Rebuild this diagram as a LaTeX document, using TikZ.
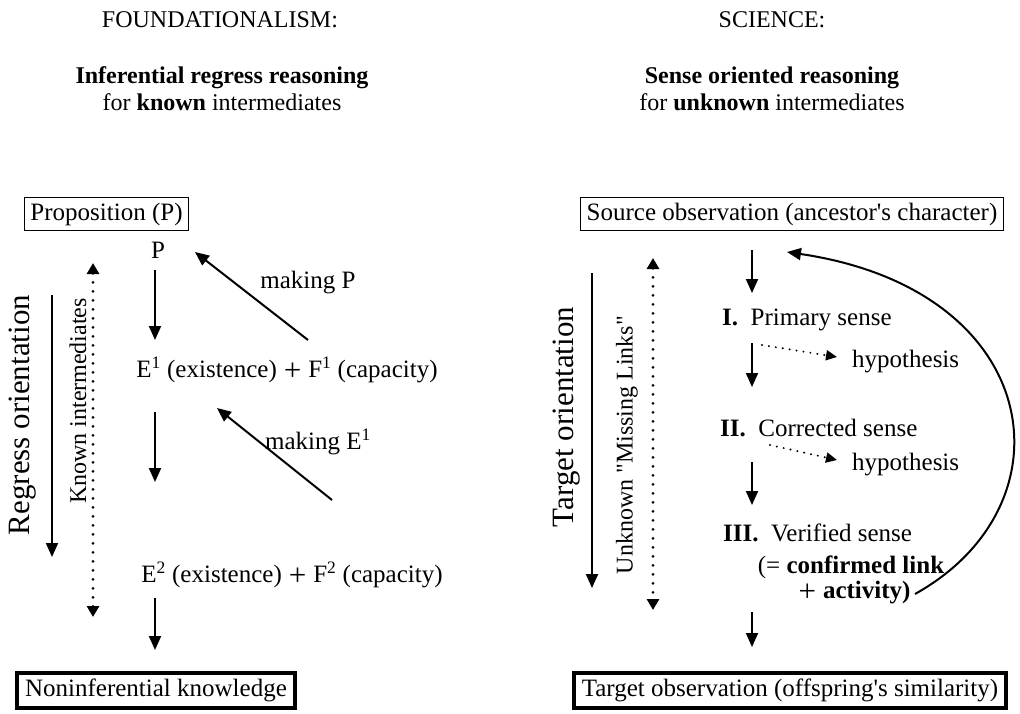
\documentclass[tikz,border=0pt]{standalone}
\usepackage{fontspec}
\setmainfont{Liberation Serif}[Ligatures=TeXOff]
\usetikzlibrary{arrows.meta}
\newcommand{\bigplus}{\hspace{0.28em}\raisebox{-2.5pt}{\fontsize{31}{30}\selectfont\mdseries +}\hspace{0.28em}}
\begin{document}
\begin{tikzpicture}[x=1pt,y=-1pt,
  txt/.style={font=\fontsize{25}{28}\selectfont, inner sep=0pt},
  head/.style={font=\fontsize{24}{28}\selectfont, inner sep=0pt},
  bigtxt/.style={font=\fontsize{31}{34}\selectfont, inner sep=0pt, rotate=90},
  sidetxt/.style={font=\fontsize{24}{28}\selectfont, inner sep=0pt, rotate=90},
  thinbox/.style={draw, line width=1pt, inner xsep=6pt, inner ysep=5pt, font=\fontsize{25}{28}\selectfont},
  thickbox/.style={draw, line width=4pt, inner xsep=8pt, inner ysep=6pt, font=\fontsize{25}{28}\selectfont},
  arr/.style={line width=2pt, -{Triangle[length=14pt,width=12pt]}},
  dotarr/.style={line width=3pt, line cap=round, dash pattern=on 0pt off 9pt,
     {Triangle[length=11pt,width=12pt]}-{Triangle[length=11pt,width=12pt]}},
  hyparr/.style={line width=2.2pt, line cap=round, dash pattern=on 0pt off 7pt,
     -{Triangle[length=11pt,width=10pt]}},
]
\useasboundingbox (0,0) rectangle (1020,713);

% ---------- left column ----------
\node[head] (h1) at (220,20) {FOUNDATIONALISM:};
\node[head] (h2) at (222,78) {\textbf{Inferential regress reasoning}};
\node[head] (h3) at (222,102) {for \textbf{known} intermediates};

\node[thinbox, anchor=west] (prop) at (24,214) {Proposition (P)};
\node[txt] (P) at (158,250) {P};
\node[txt] (E1) at (287,370) {E\textsuperscript{1} (existence)\bigplus F\textsuperscript{1} (capacity)};
\node[txt] (E2) at (292,575) {E\textsuperscript{2} (existence)\bigplus F\textsuperscript{2} (capacity)};
\node[thickbox] (nik) at (156,690) {Noninferential knowledge};

\node[txt] (mP) at (308,283) {making P};
\node[txt] (mE) at (318,442) {making E\textsuperscript{1}};

\node[bigtxt] (reg) at (23,415) {Regress orientation};
\node[sidetxt] (kin) at (78,401) {Known intermediates};

\coordinate (l1a) at (155,270); \coordinate (l1b) at (155,340);
\coordinate (l2a) at (155,412); \coordinate (l2b) at (155,482);
\coordinate (l3a) at (155,598); \coordinate (l3b) at (155,650);
\coordinate (mPa) at (308,340); \coordinate (mPb) at (195,252);
\coordinate (mEa) at (332,500); \coordinate (mEb) at (217,408);
\coordinate (ra) at (52,295); \coordinate (rb) at (52,557);
\coordinate (ka) at (93,263); \coordinate (kb) at (93,617);

\draw[arr] (l1a) -- (l1b);
\draw[arr] (l2a) -- (l2b);
\draw[arr] (l3a) -- (l3b);
\draw[arr] (mPa) -- (mPb);
\draw[arr] (mEa) -- (mEb);
\draw[arr] (ra) -- (rb);
\draw[dotarr] (ka) -- (kb);

% ---------- right column ----------
\node[head] (s1) at (772,20) {SCIENCE:};
\node[head] (s2) at (772,78) {\textbf{Sense oriented reasoning}};
\node[head] (s3) at (772,102) {for \textbf{unknown} intermediates};

\node[thinbox] (src) at (792,214) {Source observation (ancestor's character)};
\node[txt, anchor=west] (I) at (722,320) {\textbf{I.}\enspace Primary sense};
\node[txt, anchor=west] (hy1) at (852,362) {hypothesis};
\node[txt, anchor=west] (II) at (720,428) {\textbf{II.}\enspace Corrected sense};
\node[txt, anchor=west] (hy2) at (852,465) {hypothesis};
\node[txt, anchor=west] (III) at (723,533) {\textbf{III.}\enspace Verified sense};
\node[txt, align=center, font=\fontsize{25}{25}\selectfont] (cl) at (851,580)
  {(= \textbf{confirmed link}\\\textbf{\bigplus activity)}};
\node[thickbox] (tob) at (790,690) {Target observation (offspring's similarity)};

\node[bigtxt] (tor) at (567,417) {Target orientation};
\node[sidetxt] (uml) at (627,445) {Unknown "Missing Links"};

\coordinate (r1a) at (752,250); \coordinate (r1b) at (752,293);
\coordinate (r2a) at (752,343); \coordinate (r2b) at (752,387);
\coordinate (r3a) at (752,462); \coordinate (r3b) at (752,505);
\coordinate (r4a) at (752,612); \coordinate (r4b) at (752,647);
\coordinate (h1a) at (762,345); \coordinate (h1b) at (837,357);
\coordinate (h2a) at (770,445); \coordinate (h2b) at (837,460);
\coordinate (ta) at (592,273); \coordinate (tb) at (592,588);
\coordinate (ua) at (653,258); \coordinate (ub) at (653,610);
\coordinate (ca) at (915,594); \coordinate (cb) at (787,252);

\draw[arr] (r1a) -- (r1b);
\draw[arr] (r2a) -- (r2b);
\draw[arr] (r3a) -- (r3b);
\draw[arr] (r4a) -- (r4b);
\draw[hyparr] (h1a) -- (h1b);
\draw[hyparr] (h2a) -- (h2b);
\draw[arr] (ta) -- (tb);
\draw[dotarr] (ua) -- (ub);
\draw[arr] (ca) .. controls (1075,505) and (1045,290) .. (cb);
\end{tikzpicture}
\end{document}
